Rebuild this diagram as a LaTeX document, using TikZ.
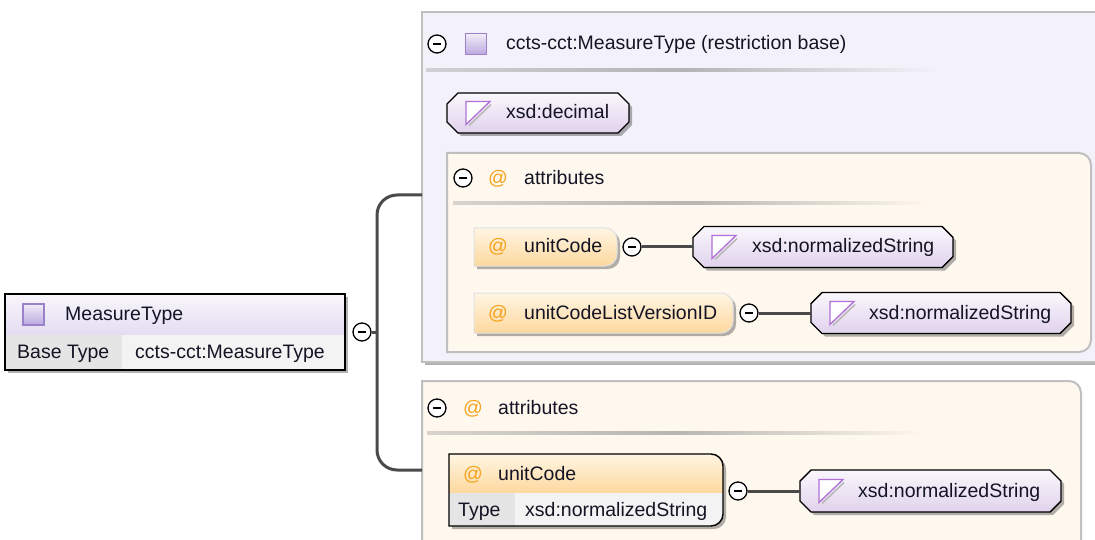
\documentclass[tikz,border=0pt]{standalone}
\usepackage{fontspec}
\setmainfont{Liberation Sans}
\usetikzlibrary{shadows}

\definecolor{restrfill}{HTML}{F3F2FA}
\definecolor{grpfill}{HTML}{FEF8EE}
\definecolor{grpline}{HTML}{BFBFBF}
\definecolor{typetop}{HTML}{FAF7FC}
\definecolor{typebot}{HTML}{E0D2EC}
\definecolor{attrtop}{HTML}{FFF5E3}
\definecolor{attrbot}{HTML}{FDD89E}
\definecolor{atsign}{HTML}{F5A21C}
\definecolor{iconline}{HTML}{9B80CA}
\definecolor{iconfill}{HTML}{BBA8DF}
\definecolor{triline}{HTML}{B070D8}
\definecolor{connline}{HTML}{4A4A4A}
\definecolor{txt}{HTML}{141424}
\definecolor{hdrtop}{HTML}{F8F6FC}
\definecolor{hdrbot}{HTML}{E4DDF2}
\definecolor{cellkey}{HTML}{E5E5E5}
\definecolor{cellval}{HTML}{F3F3F3}

% box with rounded corners on the right side only
\newcommand{\rightround}[2]{%
  \path[#2] (#1.south west) -- (#1.north west) -- ([xshift=-12pt]#1.north east)
    arc[start angle=90, end angle=0, radius=12pt] -- ([yshift=12pt]#1.south east)
    arc[start angle=0, end angle=-90, radius=12pt] -- cycle;}
% type box with cut corners
\newcommand{\chamfbox}[1]{%
  \path[typestyle] ([xshift=11pt]#1.north west) -- ([xshift=-11pt]#1.north east)
    -- ([yshift=-11pt]#1.north east) -- ([yshift=11pt]#1.south east)
    -- ([xshift=-11pt]#1.south east) -- ([xshift=11pt]#1.south west)
    -- ([yshift=11pt]#1.south west) -- ([yshift=-11pt]#1.north west) -- cycle;}

\tikzset{
  lbl/.style={font=\fontsize{19.5}{22}\selectfont, text=txt, inner sep=0pt,
    text height=15pt, text depth=3pt, anchor=west},
  atsym/.style={lbl, text=atsign, anchor=center},
  plainbox/.style={rectangle, inner sep=0pt, outer sep=0pt, anchor=north west},
  boxshadow/.style={drop shadow={shadow xshift=3pt, shadow yshift=-3pt, opacity=.3, fill=black}},
  collapse/.style={circle, draw=black, line width=1.3pt, fill=white, minimum size=18pt,
    inner sep=0pt, path picture={\draw[line width=1.3pt]
      ([xshift=-4pt]path picture bounding box.center) -- ([xshift=4pt]path picture bounding box.center);}},
  conn/.style={draw=connline, line width=3pt},
  sqicon/.style={rectangle, draw=iconline, line width=1.2pt, top color=iconfill!20,
    bottom color=iconfill, minimum size=21pt, inner sep=0pt},
  typenode/.style={rectangle, inner sep=0pt, outer sep=0pt, anchor=west},
  typestyle/.style={draw=black, line width=1.4pt, top color=typetop, bottom color=typebot, boxshadow},
  grpstyle/.style={fill=grpfill, draw=grpline, line width=2pt},
  attrstyle/.style={top color=attrtop, bottom color=attrbot, draw=black!12, line width=1pt, boxshadow},
  elemline/.style={draw=black, line width=1.4pt},
  sepline/.style={left color=#1!70!gray, right color=#1, middle color=#1!45!gray},
  tri/.pic={
    \fill[white] (-12,-11.5) -- (12,-11.5) -- (-12,11.5) -- cycle;
    \draw[gray!55, line width=1.6pt] (13,-8.5) -- (-9,12.5);
    \draw[triline, line width=1.3pt] (-12,11.5) -- (-12,-11.5) -- (12,-11.5) -- cycle;
  }
}

\begin{document}
\begin{tikzpicture}[x=1pt, y=-1pt]
\useasboundingbox (0,0) rectangle (1095,540);
\clip (0,0) rectangle (1095,540);

% root type
\node[plainbox, fill=white, boxshadow, minimum width=340pt, minimum height=76pt] (rootframe) at (5,294) {};
\node[plainbox, top color=hdrtop, bottom color=hdrbot, minimum width=340pt, minimum height=41pt] (root) at (5,294) {};
\node[plainbox, fill=cellkey, minimum width=117pt, minimum height=35pt] (rootkey) at (root.south west) {};
\node[plainbox, fill=cellval, minimum width=223pt, minimum height=35pt] (rootval) at (rootkey.north east) {};
\draw[elemline] (rootframe.north west) rectangle (rootframe.south east);
\node[sqicon] (sq0) at (33.5,314.5) {};
\node[lbl] (roottxt) at (65,314) {MeasureType};
\node[lbl] (rootkeytxt) at (17,352) {Base Type};
\node[lbl] (rootvaltxt) at (135,352) {ccts-cct:MeasureType};

% restriction base
\node[plainbox, fill=restrfill, draw=grpline, line width=2pt, boxshadow,
  minimum width=700pt, minimum height=350pt] (restr) at (422,12) {};
\node[collapse] (c1) at (437,44) {};
\node[sqicon] (sq1) at (476,44) {};
\node[lbl] (restrtxt) at (506,44) {ccts-cct:MeasureType (restriction base)};
\shade[sepline=restrfill] (426,68.5) rectangle (938,71.5);

\node[typenode, minimum width=182pt, minimum height=40pt] (dec) at (447,113) {};
\chamfbox{dec}
\pic at ([xshift=31pt]dec.west) {tri};
\node[lbl] (dectxt) at (506,113) {xsd:decimal};

% attributes of the restriction
\node[plainbox, minimum width=644pt, minimum height=199pt] (grp1) at (447,153) {};
\rightround{grp1}{grpstyle}
\node[collapse] (c2) at (463,178) {};
\node[atsym] (at2) at (498,179) {@};
\node[lbl] (grp1txt) at (524,179) {attributes};
\shade[sepline=grpfill] (453,201.5) rectangle (930,204.5);

\node[plainbox, minimum width=143pt, minimum height=38pt] (a1) at (474,228) {};
\rightround{a1}{attrstyle}
\node[atsym] (at3) at (498,247) {@};
\node[lbl] (a1txt) at (524,247) {unitCode};
\node[collapse] (c3) at (632,247) {};
\node[typenode, minimum width=260pt, minimum height=41pt] (t1) at (693,247) {};
\chamfbox{t1}
\pic at ([xshift=31pt]t1.west) {tri};
\node[lbl] (t1txt) at ([xshift=59pt]t1.west) {xsd:normalizedString};
\draw[conn] (c3) -- (t1);

\node[plainbox, minimum width=259pt, minimum height=40pt] (a2) at (474,293) {};
\rightround{a2}{attrstyle}
\node[atsym] (at4) at (498,313) {@};
\node[lbl] (a2txt) at (524,313) {unitCodeListVersionID};
\node[collapse] (c4) at (749,313) {};
\node[typenode, minimum width=260pt, minimum height=41pt] (t2) at (811,313) {};
\chamfbox{t2}
\pic at ([xshift=31pt]t2.west) {tri};
\node[lbl] (t2txt) at ([xshift=58pt]t2.west) {xsd:normalizedString};
\draw[conn] (c4) -- (t2);

% own attributes
\node[plainbox, minimum width=659pt, minimum height=190pt] (grp2) at (422,381) {};
\rightround{grp2}{grpstyle}
\node[collapse] (c5) at (437,408) {};
\node[atsym] (at5) at (473,408) {@};
\node[lbl] (grp2txt) at (498,408) {attributes};
\shade[sepline=grpfill] (427,431.5) rectangle (925,434.5);

\node[plainbox, minimum width=274pt, minimum height=72pt] (elem) at (449,454) {};
\rightround{elem}{fill=white, boxshadow}
\begin{scope}
  \rightround{elem}{clip}
  \node[plainbox, top color=attrtop, bottom color=attrbot, minimum width=274pt, minimum height=39pt] (elemhd) at (elem.north west) {};
  \node[plainbox, fill=cellkey, minimum width=66pt, minimum height=34pt] (elemkey) at (elemhd.south west) {};
  \node[plainbox, fill=cellval, minimum width=208pt, minimum height=34pt] (elemval) at (elemkey.north east) {};
\end{scope}
\rightround{elem}{elemline}
\node[atsym] (at6) at (473,474) {@};
\node[lbl] (elemtxt) at (498,474) {unitCode};
\node[lbl] (elemkeytxt) at (458,510) {Type};
\node[lbl] (elemvaltxt) at (525,510) {xsd:normalizedString};
\node[collapse] (c6) at (738,491) {};
\node[typenode, minimum width=261pt, minimum height=42pt] (t3) at (800,491) {};
\chamfbox{t3}
\pic at ([xshift=31pt]t3.west) {tri};
\node[lbl] (t3txt) at ([xshift=58pt]t3.west) {xsd:normalizedString};
\draw[conn] (c6) -- (t3);

% connector from the root
\node[collapse] (c0) at (362,332) {};
\coordinate (j0) at (377,332);
\coordinate (restrin) at (422,195);
\coordinate (attrin) at (422,470);
\draw[conn] (c0) -- (j0);
\draw[conn, rounded corners=20pt] (restrin) -| (j0) |- (attrin);
\end{tikzpicture}
\end{document}
